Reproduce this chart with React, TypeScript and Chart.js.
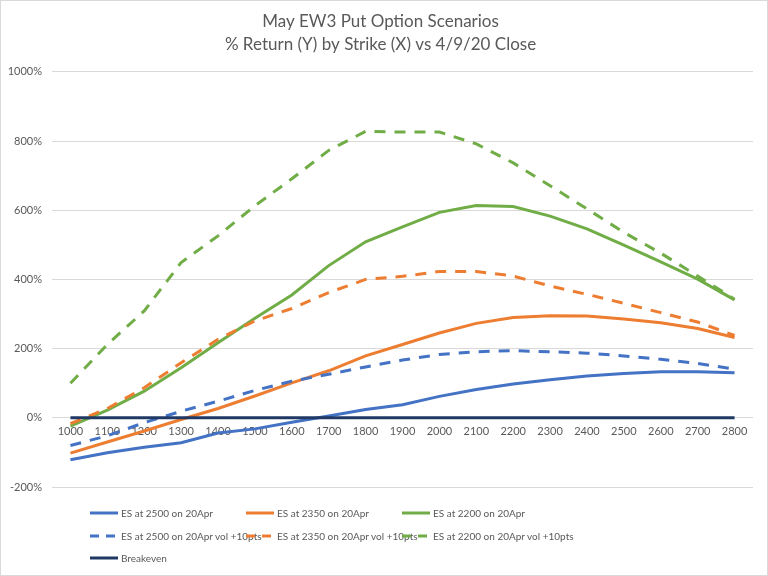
import { useEffect, useRef } from 'react'
import Chart from 'chart.js/auto'

// strike prices on the x axis
const strikes = ['1000', '1100', '1200', '1300', '1400', '1500', '1600', '1700', '1800', '1900', '2000', '2100', '2200', '2300', '2400', '2500', '2600', '2700', '2800']

// % return per strike
const es2500 = [-121, -101, -85, -72, -44, -32, -13, 5, 24, 38, 62, 82, 98, 110, 121, 128, 133, 133, 130]
const es2350 = [-102, -70, -38, -5, 27, 63, 101, 136, 179, 212, 245, 273, 290, 295, 294, 286, 275, 258, 232]
const es2200 = [-24, 22, 77, 145, 217, 288, 355, 440, 509, 552, 594, 614, 611, 583, 546, 499, 451, 401, 341]
const es2500Vol = [-80, -52, -14, 19, 48, 79, 106, 126, 147, 167, 183, 191, 194, 191, 187, 179, 169, 157, 141]
const es2350Vol = [-17, 27, 87, 159, 227, 280, 316, 362, 400, 409, 423, 423, 410, 381, 357, 331, 304, 277, 238]
const es2200Vol = [100, 212, 309, 449, 526, 613, 691, 773, 828, 826, 826, 792, 737, 671, 604, 536, 476, 410, 343]
const breakeven = [0, 0, 0, 0, 0, 0, 0, 0, 0, 0, 0, 0, 0, 0, 0, 0, 0, 0, 0]

const yTicks = [-200, 0, 200, 400, 600, 800, 1000]

const BLUE = '#4472C4'
const ORANGE = '#ED7D31'
const GREEN = '#70AD47'
const NAVY = '#203864'
const TEXT = '#595959'
const FONT = 'Lato, "Open Sans", sans-serif'
const DASH = [11, 9]

const series = [
  { label: 'ES at 2500 on 20Apr', data: es2500, color: BLUE, dashed: false },
  { label: 'ES at 2350 on 20Apr', data: es2350, color: ORANGE, dashed: false },
  { label: 'ES at 2200 on 20Apr', data: es2200, color: GREEN, dashed: false },
  { label: 'ES at 2500 on 20Apr vol +10pts', data: es2500Vol, color: BLUE, dashed: true },
  { label: 'ES at 2350 on 20Apr vol +10pts', data: es2350Vol, color: ORANGE, dashed: true },
  { label: 'ES at 2200 on 20Apr vol +10pts', data: es2200Vol, color: GREEN, dashed: true },
  { label: 'Breakeven', data: breakeven, color: NAVY, dashed: false },
]

export default function App() {
  const canvasRef = useRef<HTMLCanvasElement>(null)

  useEffect(() => {
    if (!canvasRef.current) return
    const chart = new Chart(canvasRef.current, {
      type: 'line',
      data: {
        labels: strikes,
        datasets: series.map((s, i) => ({
          label: s.label,
          data: s.data,
          borderColor: s.color,
          backgroundColor: s.color,
          borderWidth: 3,
          borderDash: s.dashed ? DASH : [],
          pointRadius: 0,
          tension: 0,
          fill: false,
          order: series.length - 1 - i,
        })),
      },
      options: {
        animation: false,
        responsive: true,
        maintainAspectRatio: false,
        layout: { padding: { left: 8, right: 15, top: 0, bottom: 89 } },
        plugins: {
          legend: { display: false },
          tooltip: { enabled: false },
          title: {
            display: true,
            text: ['May EW3 Put Option Scenarios', '% Return (Y) by Strike (X) vs 4/9/20 Close'],
            color: TEXT,
            font: { family: FONT, size: 17, weight: 'normal', lineHeight: 1.35 },
            padding: { top: 10, bottom: 16 },
          },
        },
        scales: {
          x: {
            type: 'category',
            offset: true,
            position: { y: 0 },
            grid: { display: false, drawTicks: false },
            border: { display: false },
            ticks: { color: TEXT, font: { family: FONT, size: 11 }, padding: 7, maxRotation: 0, autoSkip: false },
          },
          y: {
            min: yTicks[0],
            max: yTicks[yTicks.length - 1],
            afterBuildTicks: scale => {
              scale.ticks = yTicks.map(v => ({ value: v }))
            },
            afterFit: scale => {
              scale.width = 44
            },
            grid: { color: '#d9d9d9', drawTicks: false, lineWidth: 1 },
            border: { display: false },
            ticks: { color: TEXT, font: { family: FONT, size: 11 }, padding: 10, callback: v => `${v}%` },
          },
        },
      },
    })
    return () => chart.destroy()
  }, [])

  return (
    <div style={{ position: 'absolute', left: 0, top: 0, width: 768, height: 576, background: '#fff', fontFamily: FONT }}>
      <canvas ref={canvasRef} />
      {/* legend laid out in Excel's 3-column grid */}
      {series.map((s, i) => {
        const col = i % 3
        const row = Math.floor(i / 3)
        return (
          <div
            key={s.label}
            style={{
              position: 'absolute',
              left: 90 + col * 156,
              top: 513 + row * 22.5 - 8,
              height: 16,
              display: 'flex',
              alignItems: 'center',
              whiteSpace: 'nowrap',
              fontSize: 10,
              color: TEXT,
            }}
          >
            <svg width={28} height={4} style={{ marginRight: 3 }}>
              <line x1={0} y1={2} x2={28} y2={2} stroke={s.color} strokeWidth={3} strokeDasharray={s.dashed ? '9 7' : undefined} />
            </svg>
            {s.label}
          </div>
        )
      })}
      <div style={{ position: 'absolute', inset: 0, border: '1px solid #d9d9d9', pointerEvents: 'none' }} />
    </div>
  )
}
